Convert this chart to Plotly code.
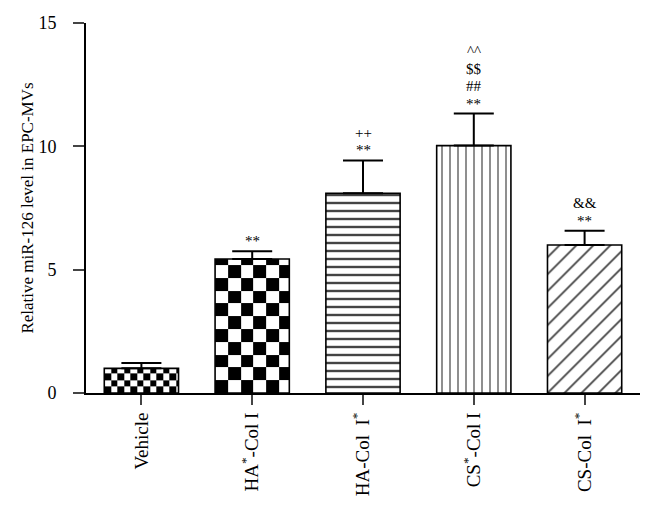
import numpy as np
import plotly.graph_objects as go

# data
groups = ["Vehicle", "HA<sup>*</sup>-Col I", "HA-Col  I<sup>*</sup>",
          "CS<sup>*</sup>-Col I", "CS-Col  I<sup>*</sup>"]
means = [1.0, 5.43, 8.1, 10.03, 6.0]
sems = [0.22, 0.32, 1.33, 1.3, 0.58]
# significance marks, bottom line first
marks = [[], ["**"], ["**", "++"], ["**", "##", "$$", "^^"], ["**", "&&"]]

FONT = "Liberation Serif"
# page body has an 8px margin, so the figure is a bit smaller than the window
W, H = 638, 509
ML, MR, MT, MB = 78, 6, 15, 124
YMAX = 15
BARW = 0.67

xs = list(range(len(groups)))
px_x = (W - ML - MR) / len(groups)   # px per x unit
px_y = (H - MT - MB) / YMAX          # px per y unit

fig = go.Figure()


def checker(xc, top, cell_px):
    # checkerboard fill for a bar, built from its position and height
    x0, x1 = xc - BARW / 2, xc + BARW / 2
    dx = cell_px / px_x
    dy = cell_px / px_y
    xe = list(np.arange(x0, x1 - dx * 0.3, dx)) + [x1]
    ye = list(np.arange(0, top - dy * 0.3, dy)) + [top]
    z = [[(i + j + 1) % 2 for j in range(len(xe) - 1)] for i in range(len(ye) - 1)]
    return go.Heatmap(x=xe, y=ye, z=z, zmin=0, zmax=1,
                      colorscale=[[0, "white"], [1, "black"]],
                      showscale=False, hoverinfo="skip")


fig.add_trace(checker(xs[0], means[0], 6.5))
fig.add_trace(checker(xs[1], means[1], 12.8))

fig.add_trace(go.Bar(
    x=xs, y=means, width=BARW,
    marker=dict(
        color=["rgba(0,0,0,0)", "rgba(0,0,0,0)", "white", "white", "white"],
        line=dict(color="black", width=1.6),
        pattern=dict(shape=["", "", "-", "|", "/"],
                     size=[8, 8, 8, 8, 12],
                     solidity=[0.2, 0.2, 0.3, 0.15, 0.15],
                     fgcolor="black", fgopacity=1),
    ),
    error_y=dict(type="data", symmetric=False, array=sems,
                 arrayminus=[0] * len(sems), color="black",
                 thickness=2, width=20),
    hoverinfo="skip",
))

for x, m, s, lines in zip(xs, means, sems, marks):
    for k, t in enumerate(lines):
        fig.add_annotation(x=x, y=m + s, text=t, showarrow=False,
                           yanchor="middle", yshift=10 + 17.5 * k,
                           font=dict(family=FONT, size=15, color="black"))

fig.update_layout(
    width=W, height=H,
    margin=dict(l=ML, r=MR, t=MT, b=MB),
    plot_bgcolor="white", paper_bgcolor="white",
    showlegend=False,
    font=dict(family=FONT, size=18, color="black"),
)
fig.update_xaxes(range=[-0.5, len(groups) - 0.5], tickvals=xs, ticktext=groups,
                 tickangle=-90, ticks="outside", ticklen=10, tickwidth=2,
                 tickfont=dict(size=19),
                 showline=True, linecolor="black", linewidth=2,
                 showgrid=False, zeroline=False)
fig.update_yaxes(range=[0, YMAX], tickvals=[0, 5, 10, 15], ticks="outside",
                 ticklen=11, tickwidth=2, ticklabelstandoff=13,
                 showline=True, linecolor="black",
                 linewidth=2, showgrid=False, zeroline=False,
                 title=dict(text="Relative miR-126 level in EPC-MVs", standoff=0,
                            font=dict(size=17)))

fig.write_html("out.html")
